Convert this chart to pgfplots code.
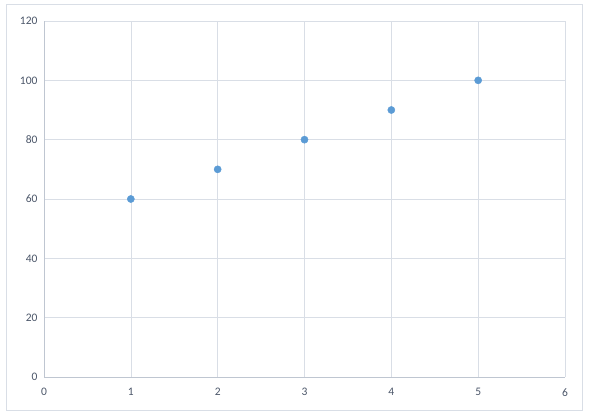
\documentclass[border=0pt]{standalone}
\usepackage{pgfplots}
\pgfplotsset{compat=1.18}
\usepackage{fontspec}
\setmainfont{Carlito}
\definecolor{grid}{HTML}{D9DEE6}
\definecolor{axisc}{HTML}{BFC6D1}
\definecolor{ticktxt}{HTML}{4A5568}
\definecolor{pt}{HTML}{5B9BD5}
\begin{document}
\begin{tikzpicture}[x=1pt,y=1pt]
\path (0,0) rectangle (590,413);
\draw[color=grid, line width=0.8pt] (6,2.5) rectangle (582.5,408.3);
\begin{axis}[
  at={(44pt,36pt)}, anchor=south west,
  scale only axis, width=521pt, height=356pt,
  xmin=0, xmax=6, ymin=0, ymax=120,
  xtick={0,1,...,6}, ytick={0,20,...,120},
  grid=major, major grid style={color=grid, line width=0.6pt},
  axis line style={color=axisc, line width=0.9pt},
  axis x line*=bottom, axis y line*=left,
  tick style={draw=none},
  ticklabel style={font=\fontsize{11.5}{13}\selectfont, color=ticktxt},
  /pgf/number format/assume math mode=true,
  xticklabel style={yshift=-8pt},
  yticklabel style={xshift=-3pt},
  clip=false,
]
\addplot[only marks, mark=*, mark size=3.6pt, color=pt, mark options={draw=pt, fill=pt}] coordinates {
(1,60) (2,70) (3,80) (4,90) (5,100)
};
\end{axis}
\end{tikzpicture}
\end{document}
